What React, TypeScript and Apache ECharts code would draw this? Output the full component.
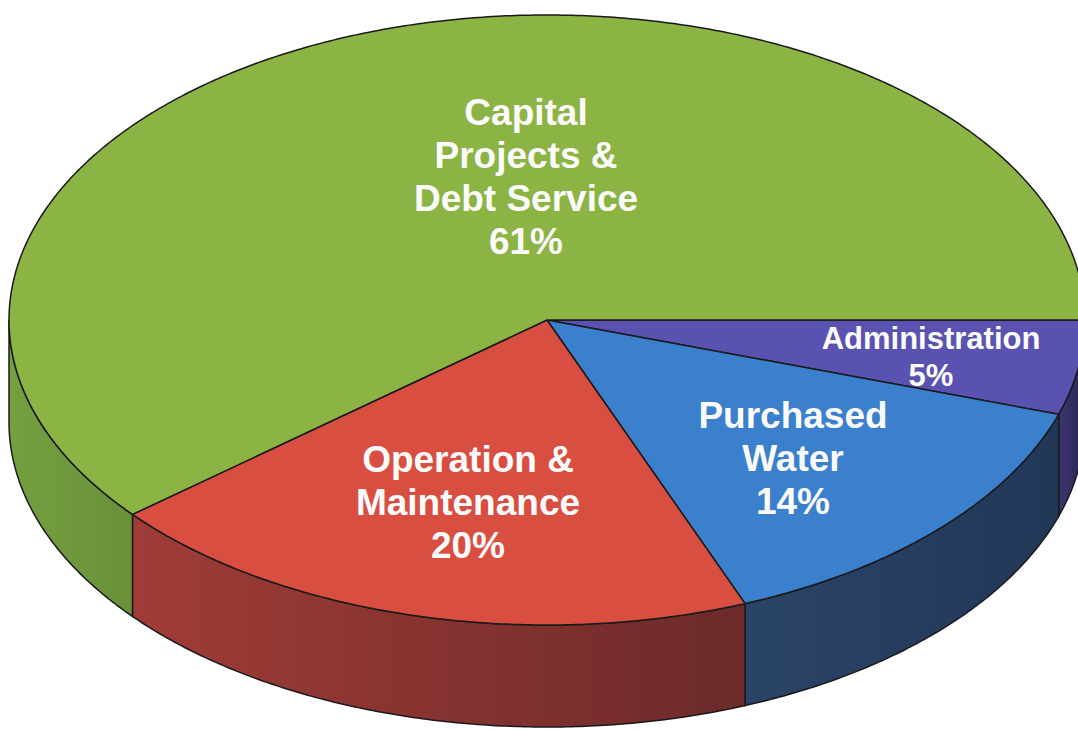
import React, { useEffect, useRef } from "react";
import * as echarts from "echarts";

// Slices in clockwise drawing order, starting at the right (3 o'clock)
const categories = ["Administration", "Purchased Water", "Operation & Maintenance", "Capital Projects & Debt Service"];
const values = [5, 14, 20, 61];
const labelLines = ["Administration\n5%", "Purchased\nWater\n14%", "Operation &\nMaintenance\n20%", "Capital\nProjects &\nDebt Service\n61%"];

const topColors = ["#5a52b0", "#3a80cc", "#d84f41", "#8cb444"];
const sideColorsA = ["#3b3570", "#2a4467", "#a03c37", "#74a040"];
const sideColorsB = ["#2a2650", "#223758", "#6c2a2a", "#6a9038"];

const labelPos = [
  { x: 931, y: 357, size: 31, lh: 37 },
  { x: 793, y: 458, size: 37, lh: 43 },
  { x: 468, y: 502, size: 37, lh: 43 },
  { x: 526, y: 177, size: 37, lh: 43 },
];

const CX = 547, CY = 320, RX = 538, RY = 305, DEPTH = 102;

const total = values.reduce((a, b) => a + b, 0);
const starts: number[] = [];
{
  let acc = 0;
  values.forEach((v) => {
    starts.push((acc / total) * 360);
    acc += v;
  });
}

function pt(deg: number, dy = 0) {
  const r = (deg * Math.PI) / 180;
  return [CX + RX * Math.cos(r), CY + RY * Math.sin(r) + dy];
}

function arc(a0: number, a1: number, dy = 0) {
  const pts: number[][] = [];
  const n = Math.max(2, Math.ceil(Math.abs(a1 - a0) / 0.5));
  for (let k = 0; k <= n; k++) pts.push(pt(a0 + ((a1 - a0) * k) / n, dy));
  return pts;
}

export default function App() {
  const ref = useRef<HTMLDivElement>(null);
  useEffect(() => {
    if (!ref.current) return;
    const chart = echarts.init(ref.current, undefined, { renderer: "svg" });
    const data = values.map((v, i) => ({ name: categories[i], value: [v, i] }));

    const sideRender = (params: any, api: any) => {
      const i = params.dataIndex;
      const v = api.value(0);
      const a0 = starts[i];
      const a1 = a0 + (v / total) * 360;
      const s = Math.max(a0, 0);
      const e = Math.min(a1, 180);
      if (e <= s) return { type: "group", children: [] };
      const top = arc(s, e);
      const bot = arc(s, e, DEPTH).reverse();
      return {
        type: "polygon",
        shape: { points: top.concat(bot) },
        style: {
          fill: new echarts.graphic.LinearGradient(0, 0, 1, 0, [
            { offset: 0, color: sideColorsA[i] },
            { offset: 1, color: sideColorsB[i] },
          ]),
          stroke: "#1a1a1a",
          lineWidth: 1.5,
        },
      };
    };

    const topRender = (params: any, api: any) => {
      const i = params.dataIndex;
      const v = api.value(0);
      const a0 = starts[i];
      const a1 = a0 + (v / total) * 360;
      const pts = [[CX, CY]].concat(arc(a0, a1));
      const lp = labelPos[i];
      return {
        type: "group",
        children: [
          {
            type: "polygon",
            shape: { points: pts },
            style: { fill: topColors[i], stroke: "#1a1a1a", lineWidth: 1.5 },
          },
          {
            type: "text",
            x: lp.x,
            y: lp.y,
            z2: 10,
            style: {
              text: labelLines[i],
              fill: "#fbfbfb",
              fontFamily: "Liberation Sans, Arial, sans-serif",
              fontWeight: "bold",
              fontSize: lp.size,
              lineHeight: lp.lh,
              align: "center",
              verticalAlign: "middle",
            },
          },
        ],
      };
    };

    chart.setOption({
      animation: false,
      backgroundColor: "#ffffff",
      series: [
        { type: "custom", coordinateSystem: "none", renderItem: sideRender, data, z: 1 },
        { type: "custom", coordinateSystem: "none", renderItem: topRender, data, z: 2 },
      ],
    });
    return () => chart.dispose();
  }, []);
  return (
    <div
      ref={ref}
      style={{ position: "fixed", left: 0, top: 0, width: 1078, height: 729 }}
    />
  );
}
